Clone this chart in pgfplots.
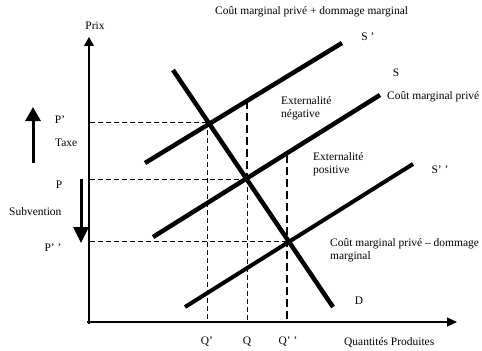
\documentclass[border=0pt]{standalone}
\usepackage{pgfplots}
\pgfplotsset{compat=1.18}
\usepackage{fontspec}
\setmainfont{Liberation Serif}
\usetikzlibrary{arrows.meta}
\tikzset{lbl/.style={font=\fontsize{11.5}{13}\selectfont, inner sep=0pt}}
\begin{document}
\begin{tikzpicture}
\begin{axis}[
  scale only axis, width=482bp, height=351bp,
  xmin=0, xmax=482, ymin=0, ymax=351, y dir=reverse,
  hide axis, clip=false,
]
\addplot[draw=none] coordinates {(0,0) (482,351)};
% axes
\addplot[line width=1.2bp, -{Triangle[length=9bp,width=10bp]}] coordinates {(89,324) (89,37)};
\addplot[line width=1.2bp, -{Triangle[length=10bp,width=9bp]}] coordinates {(87,322) (457,322)};
% thin dashed guides
\addplot[line width=0.9bp, dash pattern=on 5bp off 3bp] coordinates {(90,122) (207,122)};
\addplot[line width=0.9bp, dash pattern=on 5bp off 3bp] coordinates {(90,179) (247,179)};
\addplot[line width=0.9bp, dash pattern=on 5bp off 3bp] coordinates {(90,241) (287,241)};
\addplot[line width=0.9bp, dash pattern=on 5bp off 3bp] coordinates {(207,122) (207,322)};
\addplot[line width=0.9bp, dash pattern=on 5bp off 3bp] coordinates {(247,179) (247,322)};
% thick dashed guides
\addplot[line width=2bp, dash pattern=on 8bp off 4bp] coordinates {(247,101) (247,179)};
\addplot[line width=2bp, dash pattern=on 8bp off 4bp] coordinates {(287,155) (287,322)};
% curves
\addplot[line width=4.5bp] coordinates {(173,70) (333,307)};
\addplot[line width=4.5bp] coordinates {(145,163) (342,43)};
\addplot[line width=4.5bp] coordinates {(153,237) (380,95)};
\addplot[line width=4bp] coordinates {(185,307) (413,164)};
% tax / subsidy arrows
\addplot[line width=3bp, -{Triangle[length=14bp,width=15bp]}] coordinates {(33,163) (33,107)};
\addplot[line width=3bp, -{Triangle[length=16bp,width=15bp]}] coordinates {(81,179) (81,243)};
% labels
\node[lbl,anchor=west] at (axis cs:215,12) {Coût marginal privé + dommage marginal};
\node[lbl] at (axis cs:95,26) {Prix};
\node[lbl] at (axis cs:368,37) {S '};
\node[lbl] at (axis cs:396,73) {S};
\node[lbl,anchor=west] at (axis cs:387,97) {Coût marginal privé};
\node[lbl,anchor=west, align=left] at (axis cs:281,108.5) {Externalité\\négative};
\node[lbl,anchor=west, align=left] at (axis cs:313,164.5) {Externalité\\positive};
\node[lbl] at (axis cs:440,170) {S' '};
\node[lbl,anchor=west, align=left] at (axis cs:330,250.5) {Coût marginal privé – dommage\\marginal};
\node[lbl] at (axis cs:359,301) {D};
\node[lbl] at (axis cs:207,342) {Q'};
\node[lbl] at (axis cs:247,342) {Q};
\node[lbl] at (axis cs:288,342) {Q' '};
\node[lbl,anchor=west] at (axis cs:344,342) {Quantités Produites};
\node[lbl] at (axis cs:60,120) {P'};
\node[lbl,anchor=west] at (axis cs:55,143) {Taxe};
\node[lbl] at (axis cs:59,185) {P};
\node[lbl,anchor=west] at (axis cs:9,212) {Subvention};
\node[lbl] at (axis cs:53,248) {P' '};
\end{axis}
\end{tikzpicture}
\end{document}
